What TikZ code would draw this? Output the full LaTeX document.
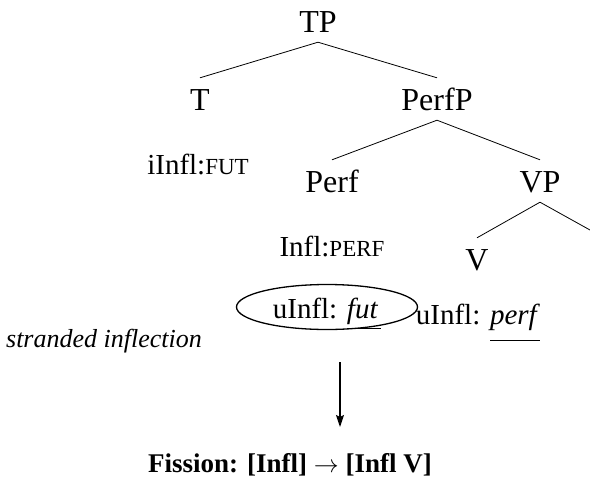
\documentclass[tikz,border=0pt]{standalone}
\usepackage{fontspec}
\setmainfont{Liberation Serif}
\usetikzlibrary{shapes.geometric,arrows.meta}
\newcommand\fsc[1]{{\fontsize{23}{27}\selectfont #1}}
\begin{document}
\begin{tikzpicture}[x=1pt,y=-1pt,
  treenode/.style={font=\fontsize{32}{38}\selectfont, text height=22pt, text depth=0pt, inner xsep=0pt, inner ysep=10pt},
  feat/.style={font=\fontsize{29}{34}\selectfont, inner sep=0pt, anchor=base},
  branch/.style={line width=0.8pt},
  circled/.style={ellipse, draw, line width=1.3pt, minimum width=181pt, minimum height=45pt, inner sep=0pt, font=\fontsize{29}{34}\selectfont, text height=24pt, text depth=2pt},
  derive/.style={line width=1.3pt, -{Stealth[length=12pt,width=8pt,inset=2pt]}},
]
\useasboundingbox (0,0) rectangle (590,485);
% tree
\node[treenode] (TP) at (318,21) {TP};
\node[treenode] (T) at (200,99) {T};
\node[treenode] (PerfP) at (437,99) {PerfP};
\node[treenode] (Perf) at (332,181) {Perf};
\node[treenode] (VP) at (540,181) {VP};
\node[treenode] (V) at (477,259) {V};
\coordinate (VPr) at (590,230);
\draw[branch] (TP.south) -- (T.north);
\draw[branch] (TP.south) -- (PerfP.north);
\draw[branch] (PerfP.south) -- (Perf.north);
\draw[branch] (PerfP.south) -- (VP.north);
\draw[branch] (VP.south) -- (V.north);
\draw[branch] (VP.south) -- (VPr);
% features
\node[feat] (iInfl) at (198,174) {iInfl:\fsc{FUT}};
\node[feat] (Infl) at (332,256) {Infl:\fsc{PERF}};
\node[circled] (ufut) at (327,307) {uInfl: \underline{\textit{fut}\/\hspace{3pt}\rule[-9pt]{0pt}{6pt}}};
\node[feat] (uperf) at (478,324) {uInfl: \underline{\textit{perf}\/\rule[-15pt]{0pt}{6pt}}};
\node[anchor=base, inner sep=0pt, font=\fontsize{26}{30}\selectfont\itshape] (stranded) at (104,347) {stranded inflection};
% fission
\node[anchor=base, inner sep=0pt, font=\fontsize{27}{32}\selectfont\bfseries] (fission) at (290,472) {Fission: [Infl] $\rightarrow$ [Infl V]};
\coordinate (a1) at (340,362);
\coordinate (a2) at (340,427);
\draw[derive] (a1) -- (a2);
\end{tikzpicture}
\end{document}
